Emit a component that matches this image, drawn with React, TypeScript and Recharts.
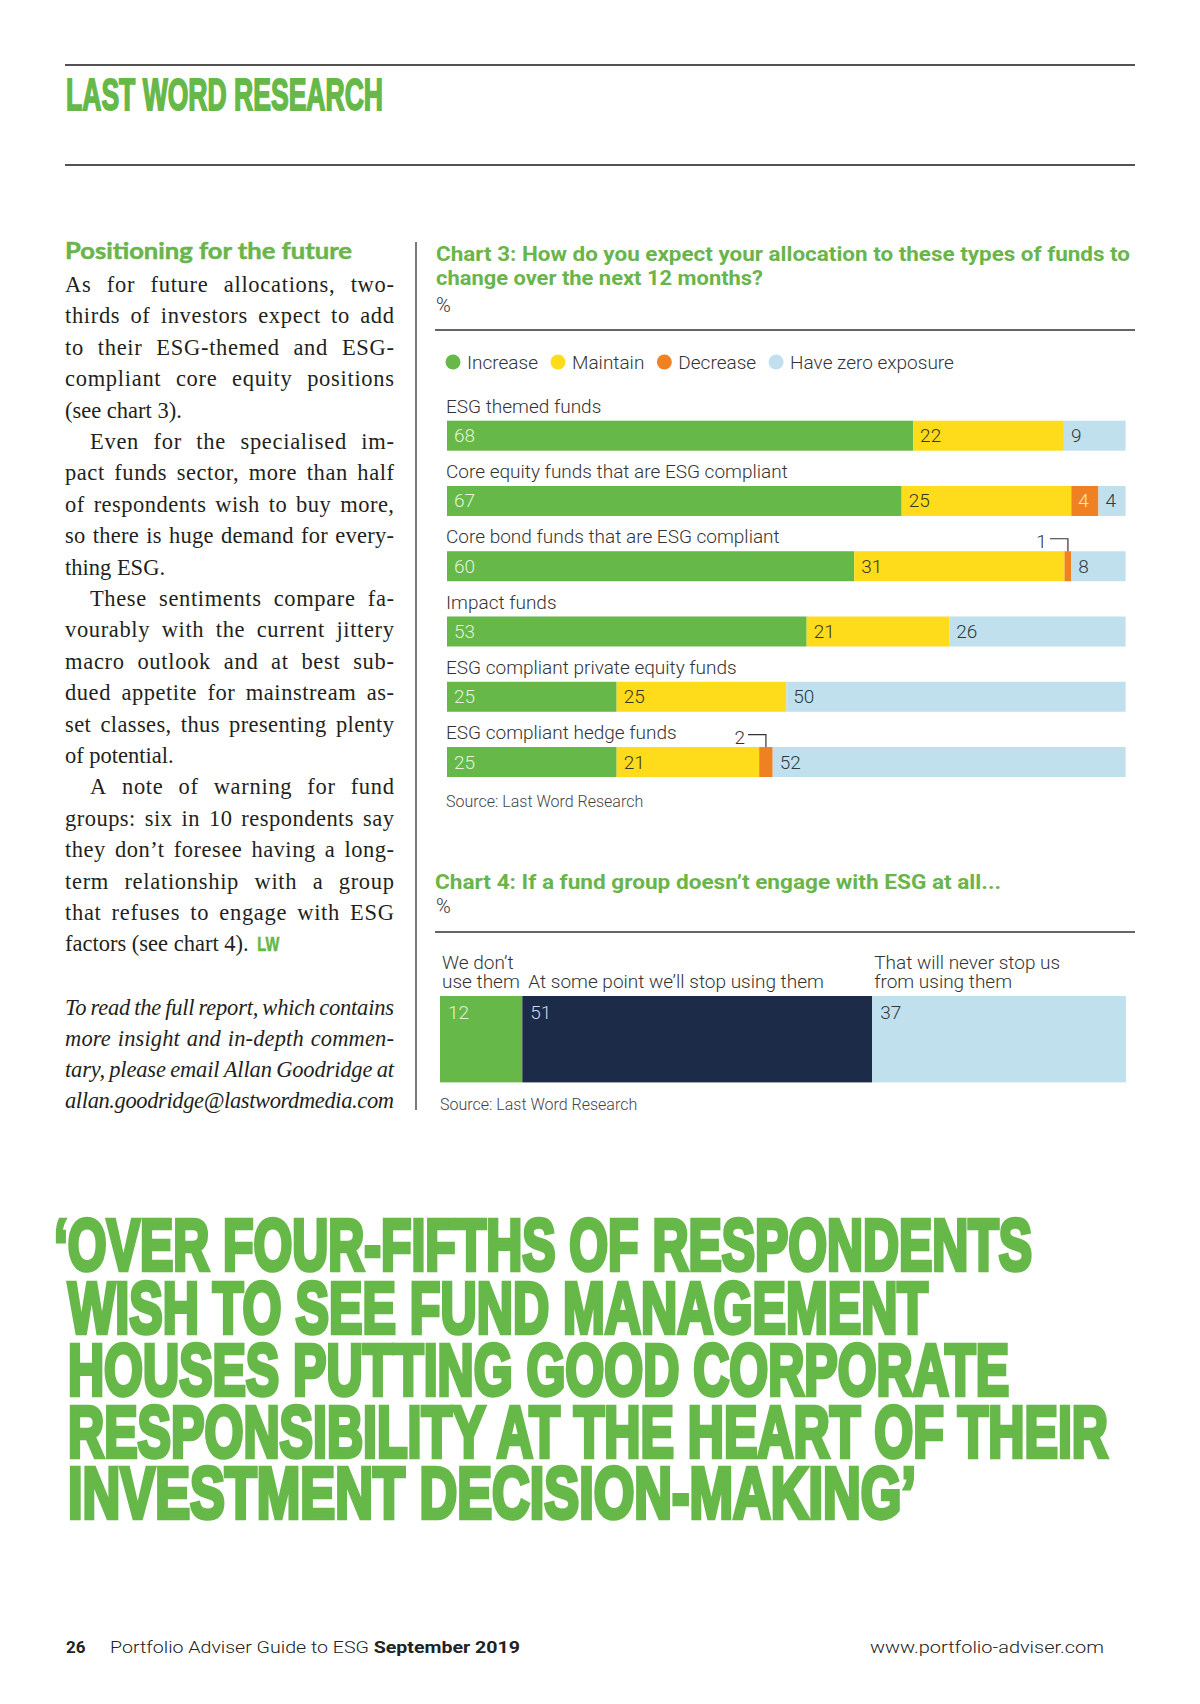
import React from 'react';
import { BarChart, Bar, XAxis, YAxis } from 'recharts';

const GREEN = '#66b848';
const TITLE_GREEN = '#69b54b';
const YELLOW = '#fedc1c';
const ORANGE = '#f08123';
const LIGHTBLUE = '#c0e0ee';
const NAVY = '#1c2b48';
const INK = '#333333';
const SANS = "Roboto, 'Open Sans', sans-serif";
const SERIF = "'Liberation Serif', 'Times New Roman', serif";

// ---------- Chart 3 data ----------
const chart3Categories = [
  'ESG themed funds',
  'Core equity funds that are ESG compliant',
  'Core bond funds that are ESG compliant',
  'Impact funds',
  'ESG compliant private equity funds',
  'ESG compliant hedge funds',
];
const increaseValues = [68, 67, 60, 53, 25, 25];
const maintainValues = [22, 25, 31, 21, 25, 21];
const decreaseValues = [0, 4, 1, 0, 0, 2];
const zeroExposureValues = [9, 4, 8, 26, 50, 52];
const chart3SeriesNames = ['Increase', 'Maintain', 'Decrease', 'Have zero exposure'];

// ---------- Chart 4 data ----------
const chart4Labels = [
  ['We don\u2019t', 'use them'],
  ['At some point we\u2019ll stop using them'],
  ['That will never stop us', 'from using them'],
];
const chart4Values = [12, 51, 37];

// ---------- Text content ----------
const bodyParagraphs = [
  ['As for future allocations, two-', 'thirds of investors expect to add', 'to their ESG-themed and ESG-', 'compliant core equity positions', '(see chart 3).'],
  ['Even for the specialised im-', 'pact funds sector, more than half', 'of respondents wish to buy more,', 'so there is huge demand for every-', 'thing ESG.'],
  ['These sentiments compare fa-', 'vourably with the current jittery', 'macro outlook and at best sub-', 'dued appetite for mainstream as-', 'set classes, thus presenting plenty', 'of potential.'],
  ['A note of warning for fund', 'groups: six in 10 respondents say', 'they don\u2019t foresee having a long-', 'term relationship with a group', 'that refuses to engage with ESG', 'factors (see chart 4).'],
];
const italicLines = [
  'To read the full report, which contains',
  'more insight and in-depth commen-',
  'tary, please email Allan Goodridge at',
  'allan.goodridge@lastwordmedia.com',
];
const quoteLines = [
  '\u2018OVER FOUR-FIFTHS OF RESPONDENTS',
  'WISH TO SEE FUND MANAGEMENT',
  'HOUSES PUTTING GOOD CORPORATE',
  'RESPONSIBILITY AT THE HEART OF THEIR',
  'INVESTMENT DECISION-MAKING\u2019',
];

const chart3Series = [
  { key: 'increase', name: chart3SeriesNames[0], color: GREEN, labelColor: '#e4f3da', values: increaseValues },
  { key: 'maintain', name: chart3SeriesNames[1], color: YELLOW, labelColor: '#3a3520', values: maintainValues },
  { key: 'decrease', name: chart3SeriesNames[2], color: ORANGE, labelColor: '#fde3cf', values: decreaseValues },
  { key: 'zero', name: chart3SeriesNames[3], color: LIGHTBLUE, labelColor: '#2e3a40', values: zeroExposureValues },
];
const chart3Data = chart3Categories.map((name, i) => {
  const row: any = { name };
  chart3Series.forEach((s) => { row[s.key] = s.values[i]; });
  return row;
});

const chart4Colors = [GREEN, NAVY, LIGHTBLUE];
const chart4LabelColors = ['#e4f3da', '#cfd5e4', '#2e3a40'];
const chart4LabelInset = [2, 6, 2];
const chart4Data = [
  chart4Values.reduce((acc: any, v, i) => { acc['s' + i] = v; return acc; }, { name: 'all' }),
];

// ---------- measuring ----------
let _ctx: CanvasRenderingContext2D | null = null;
function measure(text: string, font: string): number {
  if (!_ctx) {
    const c = document.createElement('canvas');
    _ctx = c.getContext('2d');
  }
  if (!_ctx) return text.length * 9;
  _ctx.font = font;
  return _ctx.measureText(text).width;
}

const BODY_SIZE = 22.5;
const COL_X = 65;
const COL_W = 329;

function BodyLine({ text, x, y, width, justify, italic }: any) {
  const font = `${italic ? 'italic ' : ''}${BODY_SIZE}px 'Liberation Serif'`;
  const common = { fontFamily: SERIF, fontSize: BODY_SIZE, fontStyle: italic ? 'italic' : 'normal', fill: '#231f20' };
  const words = text.split(' ');
  if (!justify) {
    return <text x={x} y={y} {...common} style={{ whiteSpace: 'pre' }}>{text}</text>;
  }
  if (words.length < 2) {
    return <text x={x} y={y} {...common} textLength={width} lengthAdjust="spacing">{text}</text>;
  }
  const nChars = words.reduce((a: number, w: string) => a + w.length, 0);
  const natural = words.reduce((a: number, w: string) => a + measure(w, font), 0);
  const space = measure(' ', font);
  const extra = width - natural - space * (words.length - 1);
  let ls = (extra * 0.45) / nChars;
  if (ls > 0.7) ls = 0.7;
  if (ls < -0.6) ls = -0.6;
  const widths = words.map((w: string) => measure(w, font) + ls * w.length);
  const total = widths.reduce((a: number, b: number) => a + b, 0);
  const gap = (width - total + ls) / (words.length - 1);
  let cx = x;
  return (
    <g>
      {words.map((w: string, i: number) => {
        const el = <text key={i} x={cx} y={y} {...common} style={{ letterSpacing: `${ls}px` }}>{w}</text>;
        cx += widths[i] + gap;
        return el;
      })}
    </g>
  );
}

function Chart3Segment(props: any) {
  const { x, y, width, height, fill, si } = props;
  let idx = chart3Categories.indexOf(props.payload ? props.payload.name : '');
  if (idx < 0) idx = props.index ?? 0;
  const s = chart3Series[si];
  const v = s.values[idx];
  const textStyle = { fontFamily: SANS, fontSize: 19, fontWeight: 300 } as any;
  const cx = x + width / 2;
  return (
    <g>
      {width > 0 && <rect x={x} y={y} width={width} height={height} fill={fill} />}
      {si === 0 && (
        <text x={x - 1} y={y - 8} fill={INK} {...textStyle}>{chart3Categories[idx]}</text>
      )}
      {v >= 3 && (
        <text x={x + 7} y={y + height / 2 + 6.5} fill={s.labelColor} {...textStyle}>{v}</text>
      )}
      {v > 0 && v < 3 && (
        <g>
          <polyline points={`${cx - 18},${y - 12.5} ${cx},${y - 12.5} ${cx},${y}`} fill="none" stroke={INK} strokeWidth={1.2} />
          <text x={cx - 21} y={y - 3.5} textAnchor="end" fill={INK} {...textStyle}>{v}</text>
        </g>
      )}
    </g>
  );
}

function Chart4Segment(props: any) {
  const { x, y, width, height, fill, si } = props;
  const v = chart4Values[si];
  const lines = chart4Labels[si];
  const textStyle = { fontFamily: SANS, fontSize: 19, fontWeight: 300 } as any;
  return (
    <g>
      <rect x={x} y={y} width={width} height={height} fill={fill} />
      {lines.map((l, i) => (
        <text key={i} x={x + chart4LabelInset[si]} y={y - 8 - (lines.length - 1 - i) * 19.5} fill={INK} {...textStyle}>{l}</text>
      ))}
      <text x={x + 8} y={y + 23} fill={chart4LabelColors[si]} {...textStyle}>{v}</text>
    </g>
  );
}

function Legend3() {
  const font = "300 19px Roboto";
  let lx = 453;
  return (
    <g>
      {chart3Series.map((s) => {
        const cx = lx;
        const tx = cx + 14;
        const w = measure(s.name, font);
        lx = tx + w + 20;
        return (
          <g key={s.key}>
            <circle cx={cx} cy={362} r={7.5} fill={s.color} />
            <text x={tx} y={369} fontFamily={SANS} fontSize={19} fontWeight={300} fill={INK}>{s.name}</text>
          </g>
        );
      })}
    </g>
  );
}

export default function App() {
  const pitch = 31.4;
  let lineNo = 0;
  const bodyEls: any[] = [];
  bodyParagraphs.forEach((para, pi) => {
    para.forEach((line, li) => {
      const y = 292 + lineNo * pitch;
      const indent = pi > 0 && li === 0 ? 25 : 0;
      const isLast = li === para.length - 1;
      bodyEls.push(
        <BodyLine key={`b${lineNo}`} text={line} x={COL_X + indent} y={y} width={COL_W - indent} justify={!isLast} />
      );
      if (pi === bodyParagraphs.length - 1 && isLast) {
        const lwX = COL_X + measure(line + ' ', `${BODY_SIZE}px 'Liberation Serif'`) + 3;
        bodyEls.push(
          <text key="lw" x={lwX} y={y} textLength={22} lengthAdjust="spacingAndGlyphs" fontFamily="'Liberation Sans', Arial, sans-serif" fontWeight={700} fontSize={21} fill={GREEN} stroke={GREEN} strokeWidth={0.6}>LW</text>
        );
      }
      lineNo++;
    });
  });
  italicLines.forEach((line, i) => {
    bodyEls.push(
      <BodyLine key={`i${i}`} text={line} x={COL_X} y={1015 + i * 31} width={COL_W} justify italic />
    );
  });

  const quoteGeom = [
    { x: 54, w: 978 },
    { x: 68, w: 860 },
    { x: 68, w: 941 },
    { x: 68, w: 1040 },
    { x: 68, w: 848 },
  ];
  const quoteBase = [1272, 1335, 1397, 1459, 1520];

  return (
    <div style={{ position: 'absolute', left: 0, top: 0, width: 1200, height: 1704, background: '#ffffff', overflow: 'hidden' }}>
      <svg width={1200} height={1704} style={{ position: 'absolute', left: 0, top: 0 }}>
        {/* header */}
        <line x1={65} y1={65} x2={1135} y2={65} stroke="#1a1a1a" strokeWidth={1.5} />
        <text x={66} y={110} textLength={317} lengthAdjust="spacingAndGlyphs" fontFamily="'Liberation Sans', Arial, sans-serif" fontWeight={700} fontSize={44} fill={GREEN} stroke={GREEN} strokeWidth={1.8}>LAST WORD RESEARCH</text>
        <line x1={65} y1={165} x2={1135} y2={165} stroke="#1a1a1a" strokeWidth={1.5} />

        {/* left column */}
        <text x={65} y={259} textLength={287} lengthAdjust="spacingAndGlyphs" fontFamily="Lato, 'Open Sans', sans-serif" fontWeight={700} fontSize={23} fill={TITLE_GREEN} stroke={TITLE_GREEN} strokeWidth={0.5}>Positioning for the future</text>
        {bodyEls}
        <line x1={416} y1={242} x2={416} y2={1110} stroke="#333" strokeWidth={1.3} />

        {/* chart 3 header */}
        <text x={436} y={261} textLength={694} lengthAdjust="spacingAndGlyphs" fontFamily={SANS} fontWeight={700} fontSize={20} fill={TITLE_GREEN}>Chart 3: How do you expect your allocation to these types of funds to</text>
        <text x={436} y={285} textLength={327} lengthAdjust="spacingAndGlyphs" fontFamily={SANS} fontWeight={700} fontSize={20} fill={TITLE_GREEN}>change over the next 12 months?</text>
        <text x={436} y={312} fontFamily={SANS} fontWeight={300} fontSize={20} fill={INK}>%</text>
        <line x1={435} y1={330} x2={1135} y2={330} stroke="#333" strokeWidth={1.3} />
        <Legend3 />
        <text x={446} y={807} fontFamily={SANS} fontWeight={300} fontSize={16} fill="#444">Source: Last Word Research</text>

        {/* chart 4 header */}
        <text x={435} y={889} textLength={566} lengthAdjust="spacingAndGlyphs" fontFamily={SANS} fontWeight={700} fontSize={20} fill={TITLE_GREEN}>{'Chart 4: If a fund group doesn\u2019t engage with ESG at all...'}</text>
        <text x={436} y={913} fontFamily={SANS} fontWeight={300} fontSize={20} fill={INK}>%</text>
        <line x1={435} y1={932} x2={1135} y2={932} stroke="#333" strokeWidth={1.3} />
        <text x={440} y={1110} fontFamily={SANS} fontWeight={300} fontSize={16} fill="#444">Source: Last Word Research</text>

        {/* big quote */}
        {quoteLines.map((q, i) => (
          <text key={i} x={quoteGeom[i].x} y={quoteBase[i] - 2} textLength={quoteGeom[i].w} lengthAdjust="spacingAndGlyphs" fontFamily="'Liberation Sans', Arial, sans-serif" fontWeight={700} fontSize={73} fill={GREEN} stroke={GREEN} strokeWidth={4.5} strokeLinejoin="miter">{q}</text>
        ))}

        {/* footer */}
        <text x={66} y={1653} fontFamily={SANS} fontWeight={700} fontSize={17} fill="#222">26</text>
        <text x={110} y={1653} textLength={410} lengthAdjust="spacingAndGlyphs" fontFamily={SANS} fontWeight={300} fontSize={17} fill="#222">
          Portfolio Adviser Guide to ESG <tspan fontWeight={700}>September 2019</tspan>
        </text>
        <text x={870} y={1653} textLength={234} lengthAdjust="spacingAndGlyphs" fontFamily={SANS} fontWeight={300} fontSize={17} fill="#222">www.portfolio-adviser.com</text>
      </svg>

      {/* Chart 3 */}
      <div style={{ position: 'absolute', left: 435, top: 380 }}>
        <BarChart
          width={700}
          height={430}
          data={chart3Data}
          layout="vertical"
          stackOffset="expand"
          barSize={30}
          margin={{ top: 22.7, right: 9.4, bottom: 15.7, left: 12 }}
        >
          <XAxis type="number" hide domain={[0, 1]} />
          <YAxis type="category" dataKey="name" hide />
          {chart3Series.map((s, si) => (
            <Bar
              key={s.key}
              dataKey={s.key}
              stackId="a"
              fill={s.color}
              isAnimationActive={false}
              shape={(p: any) => <Chart3Segment {...p} si={si} />}
            />
          ))}
        </BarChart>
      </div>

      {/* Chart 4 */}
      <div style={{ position: 'absolute', left: 430, top: 940 }}>
        <BarChart
          width={710}
          height={160}
          data={chart4Data}
          layout="vertical"
          barSize={96}
          barCategoryGap={0}
          margin={{ top: 51, right: 14, bottom: 13, left: 10 }}
        >
          <XAxis type="number" hide domain={[0, 100]} />
          <YAxis type="category" dataKey="name" hide />
          {chart4Values.map((_, si) => (
            <Bar
              key={si}
              dataKey={'s' + si}
              stackId="a"
              fill={chart4Colors[si]}
              isAnimationActive={false}
              shape={(p: any) => <Chart4Segment {...p} si={si} />}
            />
          ))}
        </BarChart>
      </div>
    </div>
  );
}
